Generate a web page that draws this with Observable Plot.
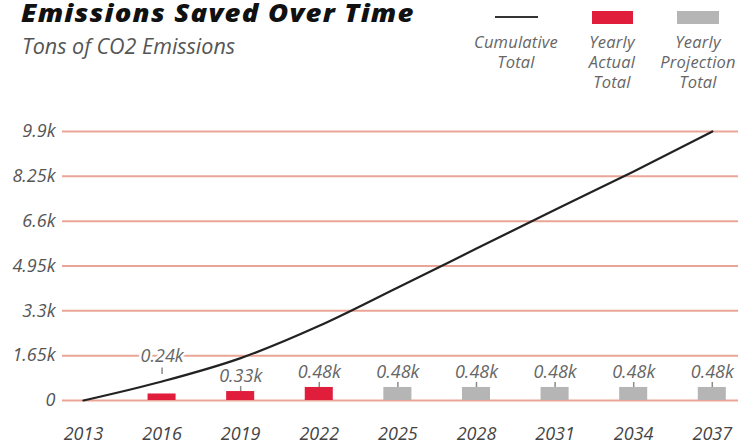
<!DOCTYPE html>
<html>
<head>
<meta charset="utf-8">
<script src="https://cdn.jsdelivr.net/npm/d3@7"></script>
<script src="https://cdn.jsdelivr.net/npm/@observablehq/plot@0.6"></script>
<style>
  html, body { margin: 0; padding: 0; background: #fff; }
  #wrap { position: relative; width: 738px; height: 444px; overflow: hidden; font-family: "Open Sans", sans-serif; }
  #header { position: relative; width: 738px; height: 112px; }
  .title { position: absolute; left: 21px; top: 0px; font-size: 25px; line-height: 25px; font-weight: 800; font-style: italic; color: #111; white-space: nowrap; letter-spacing: 1.1px; transform: scaleX(1.1); transform-origin: 0 0; }
  .subtitle { position: absolute; left: 22px; top: 33px; font-size: 21.5px; line-height: 26px; font-style: italic; color: #555; white-space: nowrap; }
  .leg { position: absolute; top: 0; text-align: center; font-style: italic; font-size: 16.5px; line-height: 20px; color: #666; }
  .leg .sw { position: absolute; }
  .leg .txt { position: absolute; left: -20px; width: calc(100% + 40px); top: 32px; letter-spacing: 0.2px; }
</style>
</head>
<body>
<div id="wrap">
  <div id="header">
    <div class="title">Emissions Saved Over Time</div>
    <div class="subtitle">Tons of CO2 Emissions</div>
    <div class="leg" style="left:466px;width:100px;">
      <div class="sw" style="left:29px;top:15.5px;width:43px;height:2.5px;background:#333;"></div>
      <div class="txt" id="leg0"></div>
    </div>
    <div class="leg" style="left:567px;width:90px;">
      <div class="sw" style="left:25px;top:11px;width:41px;height:13px;background:#e01e3c;"></div>
      <div class="txt" id="leg1"></div>
    </div>
    <div class="leg" style="left:653px;width:90px;">
      <div class="sw" style="left:24px;top:11px;width:42px;height:13px;background:#b5b5b5;"></div>
      <div class="txt" id="leg2"></div>
    </div>
  </div>
  <div id="chart"></div>
</div>
<script>
// ---- data ----
const years = [2013, 2016, 2019, 2022, 2025, 2028, 2031, 2034, 2037];
const cumulative = [0, 700, 1560, 2750, 4160, 5590, 7020, 8430, 9900];
const barYears = [2016, 2019, 2022, 2025, 2028, 2031, 2034, 2037];
const yearly = [240, 330, 480, 480, 480, 480, 480, 480];
const barKind = ["actual", "actual", "actual", "projection", "projection", "projection", "projection", "projection"];
const yTicks = [0, 1650, 3300, 4950, 6600, 8250, 9900];
const legendLabels = [["Cumulative", "Total"], ["Yearly", "Actual", "Total"], ["Yearly", "Projection", "Total"]];

legendLabels.forEach((lines, i) => {
  document.getElementById("leg" + i).innerHTML = lines.join("<br>");
});

const lineData = years.map((y, i) => ({year: y, value: cumulative[i]}));
const barData = barYears.map((y, i) => ({year: y, value: yearly[i], kind: barKind[i]}));
const kindColor = {actual: "#e01e3c", projection: "#b5b5b5"};
const halfBar = 0.535;
const fmtK = d => d === 0 ? "0" : (+(d / 1000).toFixed(2)) + "k";

const raised = d => d.year === 2016;

const chart = Plot.plot({
  width: 738,
  height: 332,
  marginTop: 19,
  marginBottom: 44,
  marginLeft: 62,
  marginRight: 0,
  style: {fontFamily: "'Open Sans', sans-serif", fontStyle: "italic", fontSize: "18px", color: "#555", background: "transparent"},
  x: {domain: [2012.2, 2038], type: "linear"},
  y: {domain: [0, 9900]},
  marks: [
    Plot.ruleY(yTicks, {stroke: "#eba596", strokeWidth: 2}),
    Plot.ruleX(barData.filter(d => !raised(d)), {x: "year", y1: 0, y2: "value", dy: -5, stroke: "#8a8a8a", strokeWidth: 1.5}),
    Plot.ruleX(barData.filter(raised), {x: "year", y1: 0, y2: "value", dy: -26, stroke: "#8a8a8a", strokeWidth: 1.5}),
    Plot.rectY(barData, {x1: d => d.year - halfBar, x2: d => d.year + halfBar, y1: 0, y2: "value", fill: d => kindColor[d.kind]}),
    Plot.line(lineData, {x: "year", y: "value", stroke: "#222", strokeWidth: 2.2, curve: "monotone-x"}),
    Plot.text(barData.filter(d => !raised(d)), {x: "year", y: "value", text: d => fmtK(d.value), dy: -15, fill: "#666", fontSize: 18}),
    Plot.text(barData.filter(raised), {x: "year", y: "value", text: d => fmtK(d.value), dy: -38, fill: "#666", fontSize: 18, stroke: "white", strokeWidth: 5}),
    Plot.axisY({ticks: yTicks, tickFormat: fmtK, tickSize: 0, tickPadding: 7, fill: "#555", label: null, fontSize: 18}),
    Plot.axisX({ticks: years, tickFormat: d => String(d), tickSize: 0, tickPadding: 27, fill: "#444", label: null, fontSize: 18})
  ]
});
document.getElementById("chart").appendChild(chart);
</script>
</body>
</html>
